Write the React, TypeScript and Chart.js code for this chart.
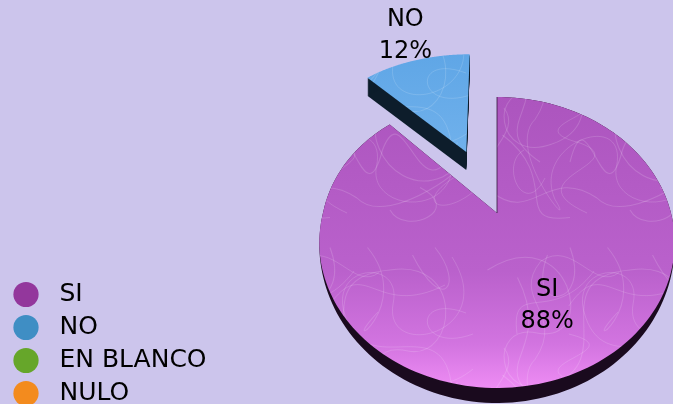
import React, { useEffect, useRef } from "react";
import { Chart, registerables } from "chart.js";

Chart.register(...registerables);

const categories = ["SI", "NO", "EN BLANCO", "NULO"];
const percentages = [88, 12, 0, 0];
const legendColors = ["#93379C", "#3F8EC4", "#66A62A", "#F38B1E"];

const explode = [0, 0.515, 0, 0];
const labelRadius = [0.64, 1.36, 0, 0];
const labelNudge = [[3.5, -1.5], [5.5, 2], [0, 0], [0, 0]];
const sideDepth = [15, 18, 0, 0];
const sideColors = ["#1A0A1E", "#0D1D2B", "#000", "#000"];
const topGradients = [
  [[0, "#AC55BE"], [0.6, "#BA61CC"], [0.85, "#D274E0"], [1, "#EE8CF4"]],
  [[0, "#5FA6E6"], [1, "#70B1EC"]],
];

const BG = "#CCC5EC";
const FONT = '"DejaVu Sans"';
// Perspective of the tilted disc
const CX = 497, CY = 213, RX = 174, RY = 139.5, K = 0.2027, LEAN = 7;

const squiggles = [
  [5, 20, 60, -15, 80, 70, 38, 62],
  [38, 62, 5, 55, 10, 110, 48, 96],
  [48, 96, 95, 80, 40, 25, 100, 20],
  [100, 20, 150, 12, 145, 80, 112, 74],
  [112, 74, 70, 65, 95, 135, 135, 118],
  [135, 118, 165, 100, 100, 155, 78, 132],
  [78, 132, 45, 110, 35, 150, 8, 128],
  [8, 128, -8, 105, 30, 90, 16, 72],
  [85, 5, 118, 45, 62, 80, 92, 48],
  [25, 25, 50, 75, 2, 82, 40, 108],
  [60, 108, 72, 60, 82, 150, 95, 100],
  [95, 100, 110, 60, 120, 150, 145, 95],
  [115, 10, 135, 50, 150, 30, 130, 5],
  [15, 90, 55, 120, 20, 150, 60, 145],
  [120, 125, 150, 140, 110, 158, 100, 140],
  [45, 10, 30, 50, 75, 45, 60, 5],
];

function project(x: number, y: number, dz = 0) {
  const w = 1 - K * y;
  const lean = x < 0 && y < 0 ? LEAN * x * -y : 0;
  return { X: CX + (RX * x) / w + lean, Y: CY + (RY * y) / w + dz };
}

function texture() {
  const c = document.createElement("canvas");
  c.width = 240;
  c.height = 240;
  const g = c.getContext("2d")!;
  g.strokeStyle = "rgba(255,255,255,0.15)";
  g.lineWidth = 0.7;
  const layer = () => {
    for (const s of squiggles) {
      g.beginPath();
      g.moveTo(s[0], s[1]);
      g.bezierCurveTo(s[2], s[3], s[4], s[5], s[6], s[7]);
      g.stroke();
    }
  };
  g.save();
  g.scale(1.5, 1.5);
  layer();
  g.restore();
  g.save();
  g.translate(240, 10);
  g.rotate(Math.PI / 2);
  g.scale(1.4, 1.4);
  layer();
  g.restore();
  return c;
}

function dotImage(color: string) {
  const c = document.createElement("canvas");
  c.width = 29;
  c.height = 29;
  const g = c.getContext("2d")!;
  g.fillStyle = color;
  g.beginPath();
  g.arc(13, 14.5, 12.6, 0, Math.PI * 2);
  g.fill();
  return c;
}

const piePlugin = {
  id: "tiltedPie",
  beforeDatasetsDraw(chart: any) {
    const ctx = chart.ctx as CanvasRenderingContext2D;
    const arcs = chart.getDatasetMeta(0).data;
    const tile = ctx.createPattern(texture(), "repeat")!;

    const trace = (el: any, i: number, depth: (y: number) => number) => {
      const mid = (el.startAngle + el.endAngle) / 2;
      const ox = explode[i] * Math.cos(mid);
      const oy = explode[i] * Math.sin(mid);
      ctx.beginPath();
      const a = project(ox, oy, depth(0));
      ctx.moveTo(a.X, a.Y);
      for (let s = 0; s <= 180; s++) {
        const t = el.startAngle + ((el.endAngle - el.startAngle) * s) / 180;
        const p = project(ox + Math.cos(t), oy + Math.sin(t), depth(Math.sin(t)));
        ctx.lineTo(p.X, p.Y);
      }
      ctx.closePath();
    };

    [1, 0].forEach((i) => {
      const el = arcs[i];
      ctx.save();
      ctx.fillStyle = sideColors[i];
      if (i === 1) {
        for (let d = 1; d <= sideDepth[i]; d++) {
          trace(el, i, () => d);
          ctx.fill();
        }
      } else {
        trace(el, i, (y) => sideDepth[i] * Math.pow(Math.max(y, 0), 1.3));
        ctx.fill();
      }
      trace(el, i, () => 0);
      const grad = ctx.createLinearGradient(0, i === 0 ? 97 : 52, 0, i === 0 ? 388 : 153);
      topGradients[i].forEach((st: any) => grad.addColorStop(st[0], st[1]));
      ctx.fillStyle = grad;
      ctx.fill();
      ctx.save();
      ctx.clip();
      ctx.fillStyle = tile;
      ctx.fillRect(0, 0, 673, 404);
      ctx.restore();
      if (i === 0) {
        const a = project(0, 0);
        const b = project(Math.cos(el.startAngle), Math.sin(el.startAngle));
        ctx.strokeStyle = "rgba(40,15,50,0.75)";
        ctx.lineWidth = 1;
        ctx.beginPath();
        ctx.moveTo(a.X, a.Y);
        ctx.lineTo(b.X, b.Y);
        ctx.stroke();
      }
      ctx.restore();
    });

    ctx.save();
    ctx.fillStyle = "#000";
    ctx.textAlign = "center";
    ctx.textBaseline = "middle";
    ctx.font = `24px ${FONT}`;
    [0, 1].forEach((i) => {
      const el = arcs[i];
      const mid = (el.startAngle + el.endAngle) / 2;
      const r = explode[i] + labelRadius[i];
      const p = project(r * Math.cos(mid), r * Math.sin(mid));
      const x = p.X + labelNudge[i][0];
      const y = p.Y + labelNudge[i][1];
      ctx.fillText(categories[i], x, y - 16);
      ctx.fillText(`${percentages[i]}%`, x, y + 16);
    });
    ctx.restore();
    return false;
  },
};

export default function App() {
  const ref = useRef<HTMLCanvasElement>(null);
  useEffect(() => {
    const chart = new Chart(ref.current!, {
      type: "pie",
      data: {
        labels: categories,
        datasets: [{ data: percentages, backgroundColor: legendColors, borderWidth: 0 }],
      },
      plugins: [piePlugin],
      options: {
        animation: false,
        responsive: false,
        plugins: {
          tooltip: { enabled: false },
          legend: {
            position: "left",
            align: "end",
            labels: {
              color: "#000",
              font: { family: FONT, size: 25 },
              usePointStyle: true,
              pointStyleWidth: 39,
              padding: 8,
              generateLabels: () =>
                categories.map((text, i) => ({
                  text,
                  fillStyle: legendColors[i],
                  strokeStyle: legendColors[i],
                  lineWidth: 0,
                  hidden: false,
                  index: i,
                  pointStyle: dotImage(legendColors[i]),
                })),
            },
          },
        },
      },
    } as any);
    return () => chart.destroy();
  }, []);
  return (
    <div style={{ position: "fixed", left: 0, top: 0, width: 673, height: 404, overflow: "hidden", background: BG }}>
      <canvas ref={ref} width={673} height={414} style={{ display: "block" }} />
    </div>
  );
}
